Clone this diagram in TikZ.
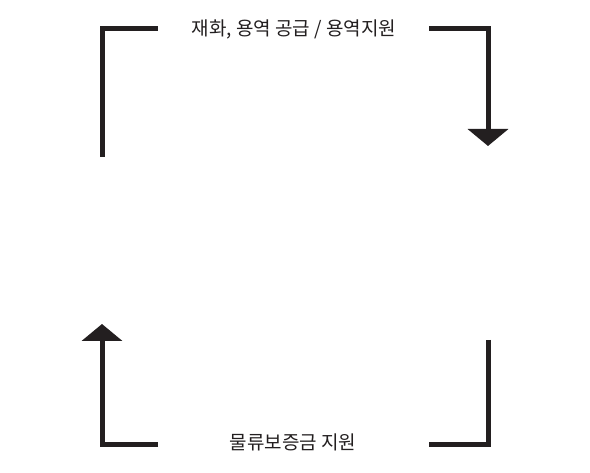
\documentclass[tikz,border=0pt]{standalone}
\usepackage{fontspec}
\newfontfamily\kr{Noto Sans CJK KR}
\usetikzlibrary{arrows.meta}
\definecolor{ink}{HTML}{231F20}
\tikzset{
  flow/.style={draw=ink, line width=5pt, line join=miter, -{Triangle[width=40pt,length=17pt]}},
  plain/.style={draw=ink, line width=5pt, line join=miter},
  lbl/.style={text=ink, font=\kr\fontsize{19pt}{22pt}\selectfont, inner sep=0pt}
}
\begin{document}
\begin{tikzpicture}[x=1pt,y=-1pt]
\useasboundingbox[fill=white] (0,0) rectangle (590,473);
\node[lbl] (t1) at (294,29) {재화, 용역 공급 / 용역지원};
\node[lbl] (t2) at (293,442) {물류보증금 지원};
\coordinate (a1) at (102,157);
\coordinate (a2) at (158,29);
\coordinate (a3) at (429,29);
\coordinate (a4) at (488,146);
\coordinate (b1) at (488,340);
\coordinate (b2) at (429,445);
\coordinate (b3) at (158,445);
\coordinate (b4) at (102,324);
\draw[plain] (a1) |- (a2);
\draw[flow] (a3) -| (a4);
\draw[plain] (b1) |- (b2);
\draw[flow] (b3) -| (b4);
\end{tikzpicture}
\end{document}
